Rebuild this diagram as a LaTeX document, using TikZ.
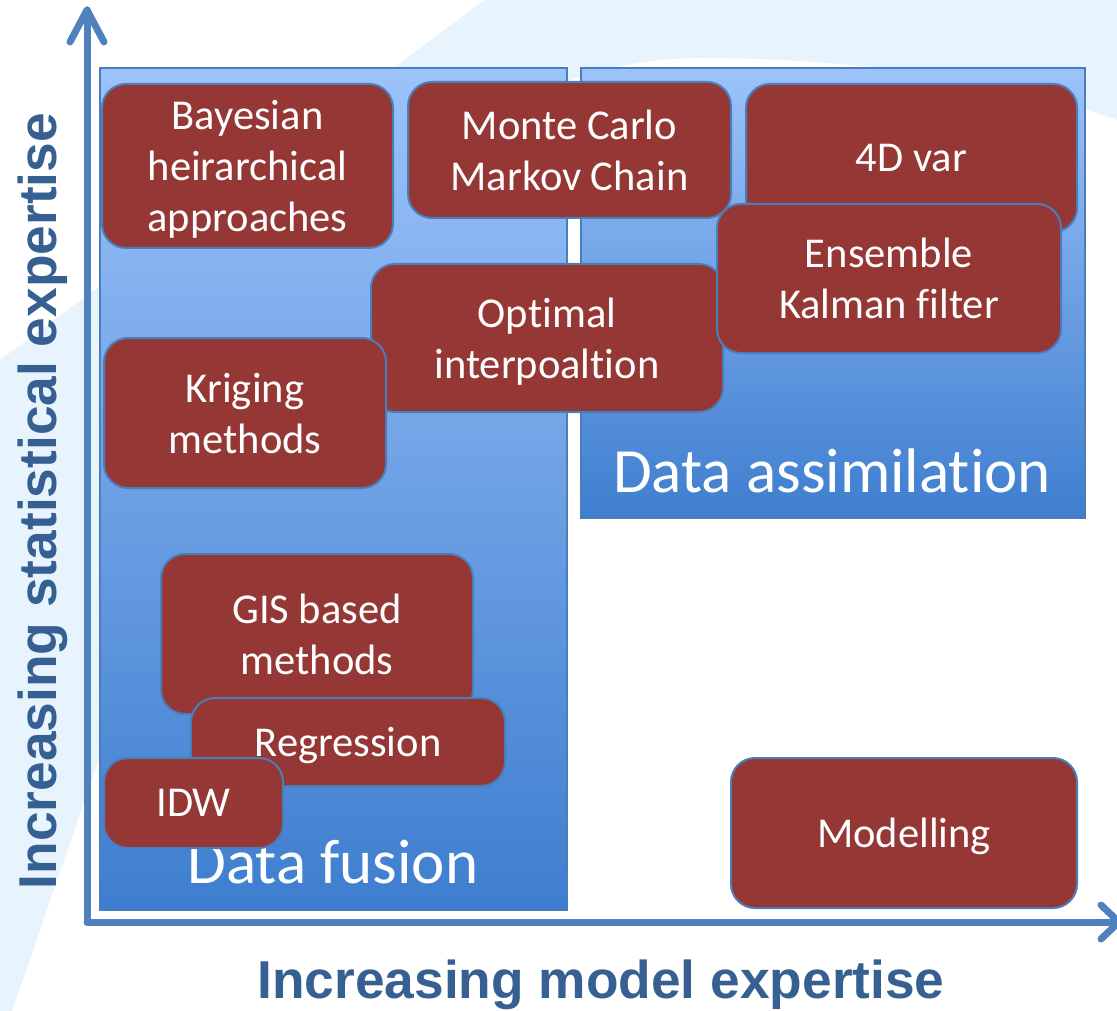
\documentclass[tikz,border=0pt]{standalone}
\usepackage{fontspec}
\setmainfont{Carlito}[Ligatures=NoCommon]
\newfontfamily\axisfont{Liberation Sans}

\definecolor{swoosh}{HTML}{E8F4FD}
\definecolor{axisblue}{HTML}{4F81BD}
\definecolor{labelblue}{HTML}{376092}
\definecolor{regiontop}{HTML}{9CC3FA}
\definecolor{regionbottom}{HTML}{3E7ECF}
\definecolor{brick}{HTML}{953735}
\definecolor{edgeblue}{HTML}{4A7EBB}

\tikzset{
  region/.style={rectangle, draw=edgeblue, line width=1.5pt,
    top color=regiontop, bottom color=regionbottom, inner sep=0pt},
  method/.style={rectangle, draw=edgeblue, line width=2pt, fill=brick,
    rounded corners=24pt, text=white, align=center, inner sep=0pt,
    text depth=0pt, font=\fontsize{42.5}{51}\selectfont},
  regionlabel/.style={text=white, inner sep=0pt, font=\fontsize{63}{63}\selectfont},
  axislabel/.style={text=labelblue, inner sep=0pt,
    font=\axisfont\bfseries\fontsize{53.3}{53.3}\selectfont},
  axisline/.style={draw=axisblue, line width=7pt, line cap=round, line join=round}
}

\begin{document}
\begin{tikzpicture}[x=1pt, y=-1pt]
\useasboundingbox (0,0) rectangle (1117,1011);

% pale background band
\fill[swoosh] (485,0) -- (0,360) -- (0,1011) -- (12,1011)
  .. controls (150,620) and (300,60) .. (700,58)
  .. controls (900,58) and (1050,95) .. (1117,120) -- (1117,0) -- cycle;

% the two regions
\node[region, minimum width=467pt, minimum height=842pt] (fusion) at (333.5,489) {};
\node[region, minimum width=504pt, minimum height=450pt] (assim) at (833,293) {};
\node[regionlabel] (fusionlabel) at (333,862) {Data fusion};
\node[regionlabel] (assimlabel) at (832,471) {Data assimilation};

% axes
\coordinate (origin) at (87,922);
\coordinate (ytip) at (87,10);
\coordinate (xtip) at (1119,922);
\draw[axisline] (origin) -- (ytip);
\draw[axisline] (70,42) -- (ytip) -- (104,42);
\draw[axisline] (origin) -- (xtip);
\draw[axisline] (1101,905) -- (xtip) -- (1101,939);

\node[axislabel, rotate=90] (ylabel) at (43,501) {Increasing statistical expertise};
\node[axislabel] (xlabel) at (601,985) {Increasing model expertise};

% methods
\node[method, minimum width=291pt, minimum height=164pt] (bayes) at (247.5,166) {Bayesian\\heirarchical\\approaches};
\node[method, minimum width=323pt, minimum height=136pt] (mcmc) at (569.5,150) {Monte Carlo\\Markov Chain};
\node[method, minimum width=331pt, minimum height=148pt] (fourdvar) at (911.5,158) {4D var};
\node[method, minimum width=352pt, minimum height=148pt] (optimal) at (547,338) {Optimal\\interpoaltion};
\node[method, minimum width=344pt, minimum height=149pt] (enkf) at (889,278.5) {Ensemble\\Kalman filter};
\node[method, minimum width=282pt, minimum height=150pt] (kriging) at (245,413) {Kriging\\methods};
\node[method, minimum width=312pt, minimum height=160pt] (gis) at (317,634) {GIS based\\methods};
\node[method, minimum width=314pt, minimum height=88pt] (regression) at (348,742) {Regression};
\node[method, minimum width=179pt, minimum height=90pt] (idw) at (193.5,803) {IDW};
\node[method, minimum width=346pt, minimum height=150pt] (modelling) at (904,833) {Modelling};
\end{tikzpicture}
\end{document}
